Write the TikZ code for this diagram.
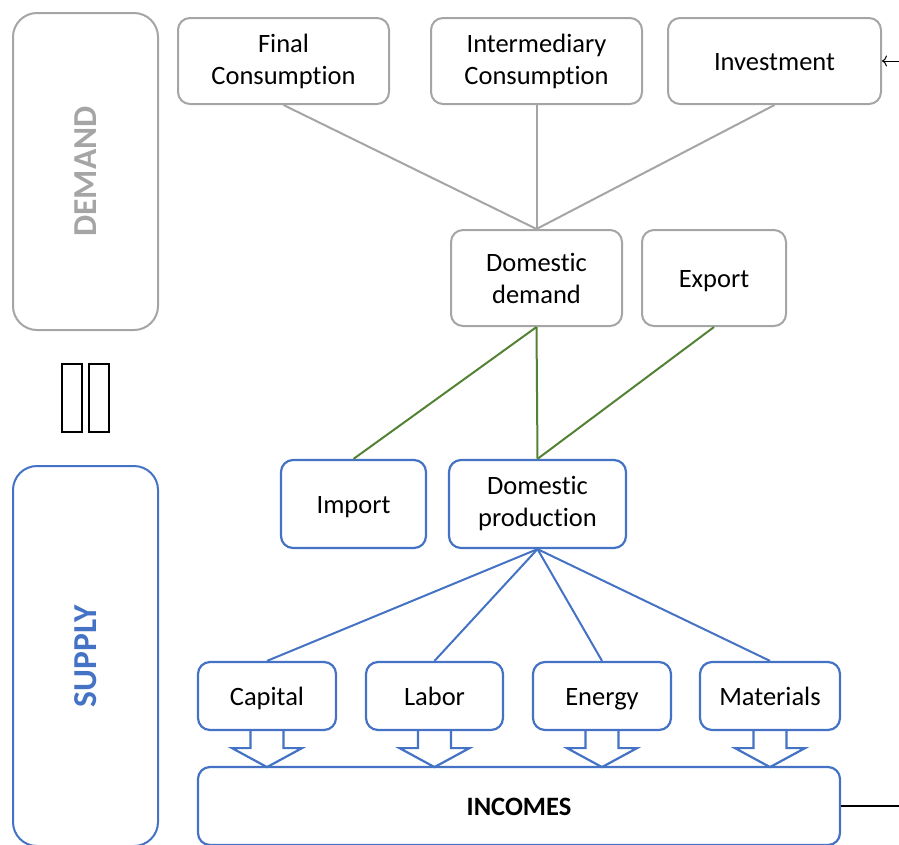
\documentclass[tikz,border=0pt]{standalone}
\usepackage{fontspec}
\setmainfont{Carlito}[Ligatures={NoCommon,NoContextual}]
\usetikzlibrary{arrows.meta}

\definecolor{boxgray}{RGB}{165,165,165}
\definecolor{boxblue}{RGB}{68,114,196}
\definecolor{linegreen}{RGB}{84,130,53}

\tikzset{
  demandbox/.style={draw=boxgray, line width=2pt, rounded corners=12pt, inner sep=0pt, align=center,
    font=\fontsize{26.5}{32}\selectfont},
  supplybox/.style={draw=boxblue, line width=2.2pt, rounded corners=12pt, inner sep=0pt, align=center,
    font=\fontsize{26.5}{32}\selectfont},
  oneline/.style={text height=22pt, text depth=3pt},
  sidebox/.style={line width=2pt, rounded corners=24pt, inner sep=0pt, rotate=90,
    font=\fontsize{33.5}{40}\selectfont\bfseries},
  blockarr/.style={draw=boxblue, line width=2.2pt, line join=miter},
}

\begin{document}
\begin{tikzpicture}[x=1pt,y=-1pt]
		\useasboundingbox (0,0) rectangle (899,844);
		% side labels
		\node[sidebox, draw=boxgray, text=boxgray, minimum width=317pt, minimum height=145pt] (demand) at (85.5,171.5) {DEMAND};
		\node[sidebox, draw=boxblue, text=boxblue, minimum width=380pt, minimum height=145pt] (supply) at (85.5,656) {SUPPLY};
		\draw[line width=2.7pt] (62,364) rectangle (82,432);
		\draw[line width=2.7pt] (89,364) rectangle (109,432);
		% demand side
		\node[demandbox, minimum width=211pt, minimum height=86pt] (fin) at (283.5,61) {Final\\Consumption};
		\node[demandbox, minimum width=211pt, minimum height=86pt] (inter) at (536.5,61) {Intermediary\\Consumption};
		\node[demandbox, oneline, minimum width=213pt, minimum height=86pt] (inv) at (774.5,61) {Investment};
		\node[demandbox, minimum width=171pt, minimum height=96pt] (dom) at (536.5,278) {Domestic\\demand};
		\node[demandbox, oneline, minimum width=144pt, minimum height=96pt] (exp) at (714,278) {Export};
		% supply side
		\node[supplybox, oneline, minimum width=145pt, minimum height=88pt] (imp) at (353.5,504) {Import};
		\node[supplybox, minimum width=177pt, minimum height=88pt] (prod) at (537.5,504) {Domestic\\production};
		\node[supplybox, oneline, minimum width=138pt, minimum height=68pt] (cap) at (267,696) {Capital};
		\node[supplybox, oneline, minimum width=137pt, minimum height=68pt] (lab) at (434.5,696) {Labor};
		\node[supplybox, oneline, minimum width=138pt, minimum height=68pt] (ene) at (602,696) {Energy};
		\node[supplybox, oneline, minimum width=140pt, minimum height=68pt] (mat) at (770,696) {Materials};
		\node[supplybox, oneline, minimum width=642pt, minimum height=78pt, font=\fontsize{26.5}{32}\selectfont\bfseries] (inc) at (519,806) {INCOMES};
		% connectors
		\draw[boxgray, line width=2pt] (fin.south) -- (dom.north);
		\draw[boxgray, line width=2pt] (inter.south) -- (dom.north);
		\draw[boxgray, line width=2pt] (inv.south) -- (dom.north);
		\draw[linegreen, line width=2pt] (dom.south) -- (imp.north);
		\draw[linegreen, line width=2pt] (dom.south) -- (prod.north);
		\draw[linegreen, line width=2pt] (exp.south) -- (prod.north);
		\foreach \n in {cap,lab,ene,mat} {
			\draw[boxblue, line width=2pt] (prod.south) -- (\n.north);
			\draw[blockarr] (\n.south) ++(-16.5,0) -- ++(0,17) -- ++(-18.5,0) -- ++(35,19) -- ++(35,-19) -- ++(-18.5,0) -- ++(0,-17);
		}
		\coordinate (invin) at (899,61);
		\coordinate (incout) at (899,806);
		\draw[-{To[length=5pt,width=11pt]}, line width=1pt] (invin) -- (inv.east);
		\draw[line width=1.3pt] (inc.east) -- (incout);
		\end{tikzpicture}
\end{document}
